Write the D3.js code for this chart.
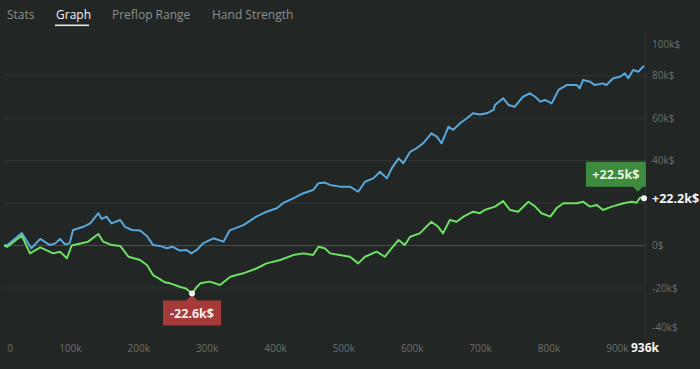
<!DOCTYPE html>
<html>
<head>
<meta charset="utf-8">
<script src="https://cdn.jsdelivr.net/npm/d3@7"></script>
<style>
  html, body { margin: 0; padding: 0; background: #222624; }
  svg { display: block; font-family: "Open Sans", "Noto Sans", sans-serif; }
</style>
</head>
<body>
<svg id="chart" width="700" height="369"></svg>
<script>
// tabs on top
var tabs = ["Stats", "Graph", "Preflop Range", "Hand Strength"];
var tabX = [7, 56, 112, 212];

// hands played (thousands) / winnings (k$) for the two lines
var blueHands = [0, 5, 26, 40, 53, 67, 75, 82, 89, 96, 101, 116, 126, 138, 143, 150, 157, 170, 177, 187, 199, 209, 218, 228, 238, 247, 257, 267, 274, 282, 291, 306, 321, 330, 350, 369, 384, 399, 408, 423, 438, 452, 460, 469, 477, 491, 506, 518, 528, 540, 550, 560, 567, 577, 584, 594, 603, 613, 625, 633, 640, 650, 657, 667, 677, 686, 696, 706, 716, 718, 730, 738, 747, 759, 769, 777, 784, 791, 801, 811, 823, 838, 842, 847, 857, 864, 876, 881, 891, 901, 908, 913, 920, 928, 936];
var blueValues = [0, 0.2, 5.9, -1.3, 3.1, 0.2, 1.0, 3.1, 0.6, 1.0, 7.3, 8.8, 10.4, 15.2, 12.5, 13.6, 10.4, 12.0, 8.8, 7.3, 7.1, 4.5, 0.2, -0.2, -1.3, -0.6, -2.4, -2.1, -3.7, -2.1, 1.0, 3.4, 1.8, 7.1, 9.6, 13.6, 15.9, 17.5, 19.9, 22.2, 24.6, 26.1, 29.3, 29.6, 28.5, 27.7, 27.7, 25.3, 30.0, 31.6, 34.7, 31.6, 36.3, 41.0, 38.7, 44.1, 45.7, 48.1, 52.8, 51.2, 48.1, 55.9, 54.4, 57.5, 59.9, 62.2, 61.6, 62.2, 63.8, 66.1, 69.3, 66.1, 65.3, 70.0, 71.6, 70.0, 67.7, 68.5, 66.9, 73.2, 75.5, 75.5, 74.0, 77.9, 77.1, 75.5, 76.3, 75.5, 78.7, 79.4, 81.0, 78.7, 82.6, 81.8, 84.6];

var greenHands = [0, 5, 26, 38, 53, 72, 82, 92, 99, 123, 138, 145, 158, 170, 182, 199, 209, 218, 228, 235, 243, 257, 266, 275, 282, 287, 301, 316, 331, 350, 370, 384, 404, 423, 438, 452, 460, 469, 477, 491, 506, 518, 528, 545, 557, 565, 577, 586, 594, 608, 625, 635, 642, 652, 662, 672, 686, 696, 703, 718, 730, 740, 752, 767, 777, 786, 799, 808, 818, 838, 847, 857, 867, 876, 889, 906, 918, 925, 930, 936];
var greenValues = [0, -0.6, 4.7, -3.7, -0.9, -3.7, -2.9, -6.0, 0.0, 1.8, 5.4, 1.8, 0.2, -0.2, -5.3, -6.8, -9.2, -13.9, -15.8, -17.3, -17.8, -19.4, -20.2, -22.6, -19.5, -17.8, -17.0, -18.6, -14.7, -13.1, -10.7, -8.4, -6.8, -4.5, -3.7, -4.5, -0.6, -1.3, -3.7, -4.5, -5.3, -8.4, -5.3, -2.9, -5.3, -2.1, 2.6, 0.2, 4.1, 5.7, 11.2, 8.8, 5.7, 12.0, 11.2, 13.6, 15.9, 15.2, 16.7, 18.3, 20.9, 16.7, 15.9, 20.6, 18.3, 15.2, 13.6, 17.5, 19.9, 19.9, 20.6, 18.3, 19.1, 16.7, 18.3, 19.9, 20.6, 20.1, 22.5, 22.2];

var xTicks = [0, 100, 200, 300, 400, 500, 600, 700, 800, 900];
var xTickLabels = ["0", "100k", "200k", "300k", "400k", "500k", "600k", "700k", "800k", "900k"];
// 20k$ label is covered by the end value label, like in the app
var yTicks = [100, 80, 60, 40, 0, -20, -40];
var yTickLabels = ["100k$", "80k$", "60k$", "40k$", "0$", "-20k$", "-40k$"];
var gridValues = [80, 60, 40, 20, 0, -20];

var minLabel = "-22.6k$";
var maxLabel = "+22.5k$";
var endLabel = "+22.2k$";
var totalLabel = "936k";

var svg = d3.select("#chart");

var x = d3.scaleLinear().domain([0, 936]).range([4, 644]);
var y = d3.scaleLinear().domain([-40, 100]).range([330.5, 33]);

// tabs
svg.selectAll(".tab")
  .data(tabs)
  .enter()
  .append("text")
    .attr("x", function (d, i) { return tabX[i]; })
    .attr("y", 19)
    .style("font-size", "12px")
    .style("fill", function (d) { return d == "Graph" ? "#f2f2f2" : "#8b8f8d"; })
    .text(function (d) { return d; });
svg.append("rect")
  .attr("x", 55).attr("y", 24.5).attr("width", 34).attr("height", 1.6)
  .style("fill", "#e8e8e8");

// grid
svg.selectAll(".grid")
  .data(gridValues)
  .enter()
  .append("line")
    .attr("x1", 4).attr("x2", 645)
    .attr("y1", function (d) { return y(d); })
    .attr("y2", function (d) { return y(d); })
    .style("stroke", function (d) { return d == 0 ? "#4a4e4c" : "#2f3432"; })
    .style("stroke-width", 1);
svg.append("line")
  .attr("x1", 645.5).attr("x2", 645.5).attr("y1", 30).attr("y2", 340)
  .style("stroke", "#2f3432");

// y labels (first and last pulled inside)
svg.selectAll(".ylab")
  .data(yTicks)
  .enter()
  .append("text")
    .attr("x", 652)
    .attr("y", function (d) {
      var p = y(d);
      if (d == 100) p = 44;
      if (d == -40) p = 327;
      return p;
    })
    .attr("dy", "0.35em")
    .style("font-size", "10px")
    .style("fill", "#6b706e")
    .text(function (d, i) { return yTickLabels[i]; });

// x labels
svg.selectAll(".xlab")
  .data(xTicks)
  .enter()
  .append("text")
    .attr("x", function (d) { return d == 0 ? 10 : x(d) - 2; })
    .attr("y", 348)
    .attr("dy", "0.35em")
    .attr("text-anchor", "middle")
    .style("font-size", "10px")
    .style("fill", "#6b706e")
    .text(function (d, i) { return xTickLabels[i]; });
svg.append("text")
  .attr("x", 645).attr("y", 348).attr("dy", "0.35em")
  .attr("text-anchor", "middle")
  .style("font-size", "12px").style("font-weight", "bold")
  .style("fill", "#f4f4f4")
  .text(totalLabel);

// lines
var line = d3.line()
  .x(function (d) { return x(d[0]); })
  .y(function (d) { return y(d[1]); });

svg.append("path")
  .datum(d3.zip(blueHands, blueValues))
  .attr("d", line)
  .style("fill", "none")
  .style("stroke", "#58a8dc")
  .style("stroke-width", 2)
  .style("stroke-linejoin", "round");

svg.append("path")
  .datum(d3.zip(greenHands, greenValues))
  .attr("d", line)
  .style("fill", "none")
  .style("stroke", "#6be062")
  .style("stroke-width", 2)
  .style("stroke-linejoin", "round");

// min marker
var minIdx = d3.minIndex(greenValues);
var mx = x(greenHands[minIdx]), my = y(greenValues[minIdx]);
svg.append("path")
  .attr("d", "M" + (mx - 29) + "," + (my + 7) + "h23l6,-5l6,5h23v25h-58z")
  .style("fill", "#a63a39");
svg.append("text")
  .attr("x", mx).attr("y", my + 20).attr("dy", "0.35em")
  .attr("text-anchor", "middle")
  .style("font-size", "12.5px").style("font-weight", "bold")
  .style("fill", "#f4eded")
  .text(minLabel);
svg.append("circle")
  .attr("cx", mx).attr("cy", my).attr("r", 3)
  .style("fill", "#f4f4f4");

// max marker
var maxIdx = d3.maxIndex(greenValues);
var ax = x(greenHands[maxIdx]), ay = y(greenValues[maxIdx]);
svg.append("path")
  .attr("d", "M" + (ax - 54) + "," + (ay - 36) + "h60v25h-3l-5,5l-5,-5h-47z")
  .style("fill", "#3e8a3f");
svg.append("text")
  .attr("x", ax - 24).attr("y", ay - 23).attr("dy", "0.35em")
  .attr("text-anchor", "middle")
  .style("font-size", "12.5px").style("font-weight", "bold")
  .style("fill", "#e6f7e2")
  .text(maxLabel);

// end point
var ex = x(greenHands[greenHands.length - 1]), ey = y(greenValues[greenValues.length - 1]);
svg.append("circle")
  .attr("cx", ex).attr("cy", ey).attr("r", 3)
  .style("fill", "#f4f4f4");
svg.append("text")
  .attr("x", 652).attr("y", ey).attr("dy", "0.35em")
  .style("font-size", "12.5px").style("font-weight", "bold")
  .style("fill", "#f4f4f4")
  .text(endLabel);
</script>
</body>
</html>
